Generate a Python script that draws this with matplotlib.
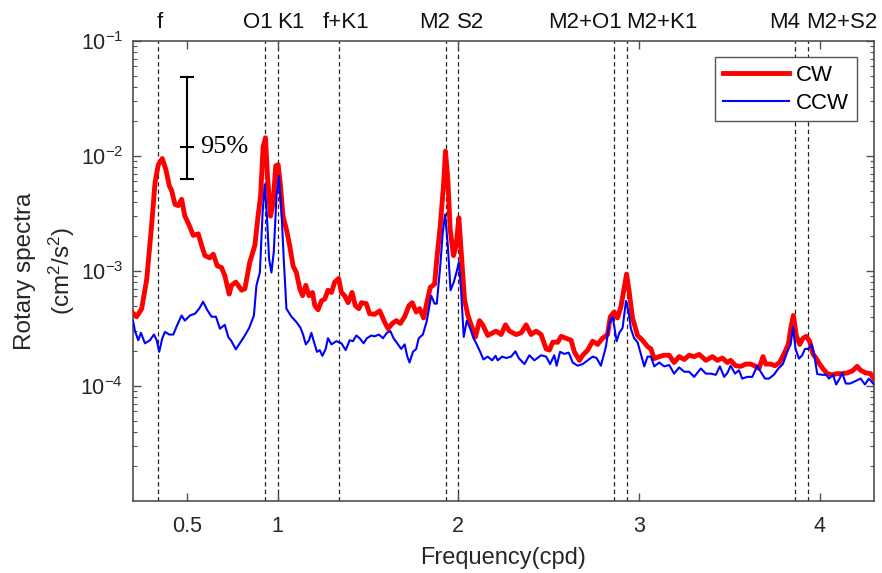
import numpy as np
import matplotlib
matplotlib.use("Agg")
import matplotlib.pyplot as plt
from matplotlib.ticker import LogLocator, NullFormatter, FixedLocator

plt.rcParams['font.family'] = ['Liberation Sans', 'DejaVu Sans']
plt.rcParams['mathtext.fontset'] = 'custom'
plt.rcParams['mathtext.rm'] = 'Liberation Sans'
plt.rcParams['mathtext.it'] = 'Liberation Sans:italic'
plt.rcParams['mathtext.bf'] = 'Liberation Sans:bold'

# CW rotary spectrum (cpd, cm^2/s^2)
cw_freq = [0.200, 0.220, 0.248, 0.276, 0.303, 0.322, 0.340, 0.362, 0.382, 0.401,
           0.414, 0.432, 0.450, 0.469, 0.487, 0.511, 0.533, 0.561, 0.580, 0.598,
           0.625, 0.644, 0.666, 0.690, 0.708, 0.732, 0.745, 0.769, 0.801, 0.819,
           0.846, 0.874, 0.892, 0.906, 0.920, 0.933, 0.944, 0.961, 0.975, 0.990,
           1.003, 1.016, 1.030, 1.049, 1.067, 1.086, 1.104, 1.123, 1.138, 1.156,
           1.174, 1.193, 1.206, 1.224, 1.243, 1.261, 1.279, 1.298, 1.316, 1.338,
           1.353, 1.371, 1.390, 1.412, 1.430, 1.450, 1.464, 1.491, 1.509, 1.537,
           1.565, 1.592, 1.611, 1.635, 1.657, 1.679, 1.703, 1.727, 1.745, 1.767,
           1.786, 1.808, 1.826, 1.845, 1.869, 1.881, 1.900, 1.918, 1.929, 1.942,
           1.955, 1.973, 1.988, 2.003, 2.016, 2.034, 2.053, 2.071, 2.095, 2.117,
           2.135, 2.163, 2.191, 2.209, 2.237, 2.261, 2.283, 2.320, 2.348, 2.375,
           2.403, 2.430, 2.458, 2.486, 2.504, 2.522, 2.550, 2.569, 2.596, 2.624,
           2.642, 2.670, 2.688, 2.716, 2.743, 2.771, 2.798, 2.826, 2.841, 2.863,
           2.881, 2.900, 2.918, 2.931, 2.946, 2.964, 2.992, 3.019, 3.047, 3.066,
           3.084, 3.112, 3.139, 3.167, 3.194, 3.222, 3.250, 3.277, 3.305, 3.333,
           3.370, 3.406, 3.434, 3.461, 3.489, 3.507, 3.535, 3.563, 3.590, 3.618,
           3.646, 3.664, 3.686, 3.701, 3.729, 3.752, 3.778, 3.802, 3.826, 3.839,
           3.854, 3.870, 3.889, 3.907, 3.925, 3.944, 3.962, 3.981, 3.999, 4.017,
           4.041, 4.069, 4.097, 4.124, 4.152, 4.180, 4.207, 4.226, 4.254, 4.281,
           4.300]
cw_spec = [4.3e-4, 4.0e-4, 4.7e-4, 8.5e-4, 2.5e-3, 5.9e-3, 8.4e-3, 9.5e-3, 7.6e-3, 5.5e-3,
           5.0e-3, 3.8e-3, 3.7e-3, 4.2e-3, 3.0e-3, 2.5e-3, 2.04e-3, 2.1e-3, 1.66e-3, 1.36e-3,
           1.3e-3, 1.4e-3, 1.11e-3, 1.07e-3, 9.1e-4, 6.3e-4, 7.5e-4, 8.0e-4, 6.8e-4, 7.0e-4,
           1.19e-3, 1.66e-3, 3.0e-3, 4.5e-3, 1.2e-2, 1.44e-2, 6.7e-3, 3.0e-3, 3.9e-3, 8.2e-3,
           8.4e-3, 5.5e-3, 3.0e-3, 2.3e-3, 1.66e-3, 1.1e-3, 9.7e-4, 7.0e-4, 6.1e-4, 7.5e-4,
           6.1e-4, 6.5e-4, 5.0e-4, 4.6e-4, 5.5e-4, 5.7e-4, 6.8e-4, 6.5e-4, 8.0e-4, 8.6e-4,
           6.5e-4, 6.1e-4, 5.3e-4, 6.5e-4, 5.0e-4, 4.7e-4, 5.3e-4, 5.2e-4, 4.25e-4, 4.2e-4,
           4.5e-4, 3.6e-4, 3.15e-4, 3.5e-4, 3.7e-4, 3.5e-4, 4.0e-4, 5.0e-4, 5.3e-4, 4.4e-4,
           4.7e-4, 3.9e-4, 5.3e-4, 7.2e-4, 7.7e-4, 1.27e-3, 2.47e-3, 5.5e-3, 1.1e-2, 6.3e-3,
           2.3e-3, 1.36e-3, 1.66e-3, 2.9e-3, 1.47e-3, 5.7e-4, 4.1e-4, 3.4e-4, 2.67e-4, 3.7e-4,
           3.4e-4, 2.75e-4, 2.9e-4, 3.0e-4, 2.8e-4, 3.4e-4, 3.0e-4, 2.8e-4, 2.9e-4, 3.4e-4,
           2.8e-4, 3.0e-4, 2.8e-4, 2.1e-4, 2.05e-4, 2.4e-4, 2.4e-4, 2.7e-4, 2.6e-4, 2.5e-4,
           1.98e-4, 1.67e-4, 1.85e-4, 2.05e-4, 2.45e-4, 2.3e-4, 2.6e-4, 2.8e-4, 4.0e-4, 4.4e-4,
           3.9e-4, 4.9e-4, 7.2e-4, 9.4e-4, 6.5e-4, 3.9e-4, 2.75e-4, 2.5e-4, 2.2e-4, 2.1e-4,
           1.73e-4, 1.8e-4, 1.85e-4, 1.85e-4, 1.6e-4, 1.8e-4, 1.7e-4, 1.85e-4, 1.8e-4, 1.88e-4,
           1.67e-4, 1.8e-4, 1.67e-4, 1.75e-4, 1.6e-4, 1.67e-4, 1.5e-4, 1.48e-4, 1.55e-4, 1.55e-4,
           1.48e-4, 1.42e-4, 1.8e-4, 1.55e-4, 1.55e-4, 1.5e-4, 1.6e-4, 1.9e-4, 2.3e-4, 3.15e-4,
           4.1e-4, 2.75e-4, 2.3e-4, 2.6e-4, 2.7e-4, 2.45e-4, 1.9e-4, 1.73e-4, 1.55e-4, 1.42e-4,
           1.28e-4, 1.25e-4, 1.28e-4, 1.28e-4, 1.3e-4, 1.35e-4, 1.48e-4, 1.37e-4, 1.3e-4, 1.28e-4,
           1.15e-4]

# CCW rotary spectrum
ccw_freq = [0.200, 0.211, 0.229, 0.244, 0.266, 0.294, 0.316, 0.331, 0.345, 0.362,
            0.377, 0.401, 0.423, 0.445, 0.469, 0.487, 0.515, 0.543, 0.566, 0.588,
            0.610, 0.635, 0.659, 0.681, 0.708, 0.727, 0.745, 0.769, 0.791, 0.819,
            0.843, 0.869, 0.883, 0.902, 0.917, 0.929, 0.942, 0.953, 0.966, 0.979,
            0.994, 1.007, 1.022, 1.034, 1.049, 1.077, 1.104, 1.127, 1.141, 1.156,
            1.174, 1.187, 1.200, 1.218, 1.233, 1.248, 1.266, 1.279, 1.298, 1.325,
            1.353, 1.377, 1.399, 1.417, 1.436, 1.454, 1.476, 1.494, 1.519, 1.537,
            1.561, 1.583, 1.605, 1.624, 1.642, 1.666, 1.684, 1.703, 1.718, 1.730,
            1.749, 1.767, 1.781, 1.804, 1.826, 1.850, 1.869, 1.881, 1.900, 1.914,
            1.927, 1.942, 1.957, 1.975, 1.992, 2.003, 2.016, 2.030, 2.047, 2.066,
            2.084, 2.102, 2.121, 2.139, 2.163, 2.187, 2.206, 2.218, 2.243, 2.265,
            2.292, 2.316, 2.334, 2.366, 2.393, 2.421, 2.458, 2.486, 2.508, 2.531,
            2.544, 2.563, 2.587, 2.611, 2.633, 2.660, 2.688, 2.716, 2.743, 2.765,
            2.789, 2.817, 2.835, 2.854, 2.876, 2.891, 2.909, 2.928, 2.942, 2.955,
            2.973, 2.992, 3.010, 3.029, 3.047, 3.066, 3.084, 3.112, 3.139, 3.167,
            3.194, 3.222, 3.250, 3.277, 3.305, 3.342, 3.370, 3.397, 3.425, 3.447,
            3.471, 3.489, 3.507, 3.531, 3.553, 3.571, 3.599, 3.627, 3.654, 3.673,
            3.697, 3.719, 3.746, 3.771, 3.796, 3.820, 3.839, 3.852, 3.866, 3.885,
            3.903, 3.918, 3.936, 3.955, 3.970, 3.986, 4.014, 4.036, 4.051, 4.073,
            4.091, 4.110, 4.124, 4.144, 4.168, 4.196, 4.226, 4.250, 4.272, 4.300]
ccw_spec = [3.7e-4, 3.0e-4, 2.5e-4, 2.9e-4, 2.35e-4, 2.5e-4, 2.8e-4, 2.5e-4, 1.98e-4, 2.6e-4,
            2.95e-4, 2.8e-4, 2.8e-4, 3.4e-4, 4.1e-4, 3.7e-4, 4.1e-4, 4.25e-4, 4.7e-4, 5.4e-4,
            4.6e-4, 4.0e-4, 4.0e-4, 3.15e-4, 3.4e-4, 2.67e-4, 2.45e-4, 2.08e-4, 2.35e-4, 2.75e-4,
            3.2e-4, 4.1e-4, 7.5e-4, 9.7e-4, 3.2e-3, 5.66e-3, 2.8e-3, 1.27e-3, 9.7e-4, 1.47e-3,
            4.5e-3, 6.7e-3, 3.2e-3, 1.27e-3, 4.7e-4, 4.0e-4, 3.6e-4, 3.2e-4, 2.8e-4, 2.3e-4,
            2.5e-4, 2.9e-4, 2.45e-4, 1.98e-4, 2.05e-4, 1.83e-4, 2.1e-4, 2.6e-4, 2.3e-4, 2.45e-4,
            2.35e-4, 2.05e-4, 2.5e-4, 2.45e-4, 2.75e-4, 2.6e-4, 2.35e-4, 2.6e-4, 2.75e-4, 2.7e-4,
            2.8e-4, 2.6e-4, 2.9e-4, 3.0e-4, 2.6e-4, 2.3e-4, 2.1e-4, 2.3e-4, 1.8e-4, 1.6e-4,
            1.98e-4, 2.1e-4, 2.6e-4, 2.8e-4, 3.7e-4, 6.1e-4, 5.2e-4, 5.2e-4, 1.1e-3, 2.16e-3,
            3.1e-3, 1.66e-3, 6.8e-4, 8.0e-4, 1.0e-3, 1.19e-3, 6.5e-4, 2.67e-4, 3.7e-4, 3.15e-4,
            2.6e-4, 2.3e-4, 1.98e-4, 1.7e-4, 1.8e-4, 1.67e-4, 1.83e-4, 1.67e-4, 1.8e-4, 1.75e-4,
            1.8e-4, 2.0e-4, 1.75e-4, 1.55e-4, 1.85e-4, 1.67e-4, 1.85e-4, 1.8e-4, 1.55e-4, 1.85e-4,
            1.5e-4, 1.98e-4, 1.9e-4, 1.95e-4, 1.6e-4, 1.5e-4, 1.55e-4, 1.67e-4, 1.8e-4, 1.75e-4,
            1.5e-4, 2.2e-4, 3.5e-4, 4.0e-4, 2.45e-4, 2.9e-4, 3.2e-4, 5.5e-4, 4.4e-4, 3.15e-4,
            2.6e-4, 2.4e-4, 1.9e-4, 1.48e-4, 1.8e-4, 1.8e-4, 1.48e-4, 1.6e-4, 1.48e-4, 1.52e-4,
            1.28e-4, 1.45e-4, 1.33e-4, 1.33e-4, 1.2e-4, 1.42e-4, 1.28e-4, 1.28e-4, 1.25e-4, 1.48e-4,
            1.2e-4, 1.3e-4, 1.5e-4, 1.28e-4, 1.37e-4, 1.16e-4, 1.2e-4, 1.2e-4, 1.5e-4, 1.33e-4,
            1.16e-4, 1.16e-4, 1.25e-4, 1.42e-4, 1.55e-4, 1.98e-4, 2.3e-4, 3.26e-4, 2.1e-4, 1.73e-4,
            1.85e-4, 2.1e-4, 2.1e-4, 2.3e-4, 1.85e-4, 1.27e-4, 1.25e-4, 1.25e-4, 1.16e-4, 1.25e-4,
            1.03e-4, 1.16e-4, 1.3e-4, 1.05e-4, 1.05e-4, 1.1e-4, 1.16e-4, 1.03e-4, 1.16e-4, 1.03e-4]

# tidal constituents (cpd) and where their names sit above the axes
const_names = ['f', 'O1', 'K1', 'f+K1', 'M2', 'S2', 'M2+O1', 'M2+K1', 'M4', 'M2+S2']
const_freq = [0.336, 0.9295, 1.0027, 1.3387, 1.9323, 2.0, 2.8618, 2.9350, 3.8645, 3.9323]
label_x = [0.349, 0.891, 1.073, 1.377, 1.869, 2.067, 2.703, 3.128, 3.808, 4.123]

# 95% confidence bar
ci_x = 0.5
ci_center = 0.012
ci_low = 0.0063
ci_high = 0.049

xticks = [0.5, 1, 2, 3, 4]
xtick_labels = ['0.5', '1', '2', '3', '4']
yticks = [1e-4, 1e-3, 1e-2, 1e-1]

axis_col = '#505050'

fig = plt.figure(figsize=(8.82, 5.73), dpi=100)
ax = fig.add_axes([0.1508, 0.1257, 0.8401, 0.8028])

for fr in const_freq:
    ax.axvline(fr, color='#222222', lw=0.9, ls=(0, (3.5, 2.5)), zorder=1)

ax.semilogy(cw_freq, cw_spec, color='#ff0000', lw=3.5, label='CW', zorder=3)
ax.semilogy(ccw_freq, ccw_spec, color='#0000ff', lw=1.5, label='CCW', zorder=4)

ax.errorbar([ci_x], [ci_center],
            yerr=[[ci_center - ci_low], [ci_high - ci_center]],
            fmt='_', color='k', ms=9.5, mew=1.5, elinewidth=1.5,
            capsize=4.7, capthick=1.5, zorder=5)
ax.text(0.570, ci_center, '95%', family=['Liberation Serif', 'DejaVu Serif'],
        fontsize=19, ha='left', va='center')

for name, lx in zip(const_names, label_x):
    ax.text(lx, 1.028, name, transform=ax.get_xaxis_transform(),
            ha='center', va='baseline', fontsize=16, color='#111111')

ax.set_xlim(0.2, 4.3)
ax.set_ylim(1e-5, 1e-1)
ax.set_xticks(xticks)
ax.set_xticklabels(xtick_labels)
ax.yaxis.set_major_locator(FixedLocator(yticks))
ax.yaxis.set_minor_locator(LogLocator(base=10, subs=np.arange(2, 10), numticks=20))
ax.yaxis.set_minor_formatter(NullFormatter())

ax.tick_params(axis='both', which='both', direction='in', top=True, right=True,
               colors=axis_col, labelcolor='#262626')
ax.tick_params(axis='both', which='major', length=5.5, width=1.0, labelsize=15.5)
ax.tick_params(axis='both', which='minor', length=3, width=0.8)
ax.tick_params(axis='x', pad=11)
ax.tick_params(axis='y', pad=7)
for sp in ax.spines.values():
    sp.set_color(axis_col)
    sp.set_linewidth(1.2)

ax.set_xlabel('Frequency(cpd)', fontsize=17, color='#262626', labelpad=7)
ax.set_ylabel('Rotary spectra\n(cm$^2$/s$^2$)', fontsize=17.5, color='#262626',
              linespacing=1.45, va='center')
ax.yaxis.set_label_coords(-0.118, 0.5)

leg = ax.legend(loc='upper right', bbox_to_anchor=(0.977, 0.965), borderaxespad=0,
                fontsize=16, handlelength=3.0, handletextpad=0.3, labelspacing=0.3,
                borderpad=0.35, fancybox=False, framealpha=1)
leg.get_frame().set_edgecolor('#555555')
leg.get_frame().set_linewidth(1.0)

fig.savefig('out.png', dpi=100)
